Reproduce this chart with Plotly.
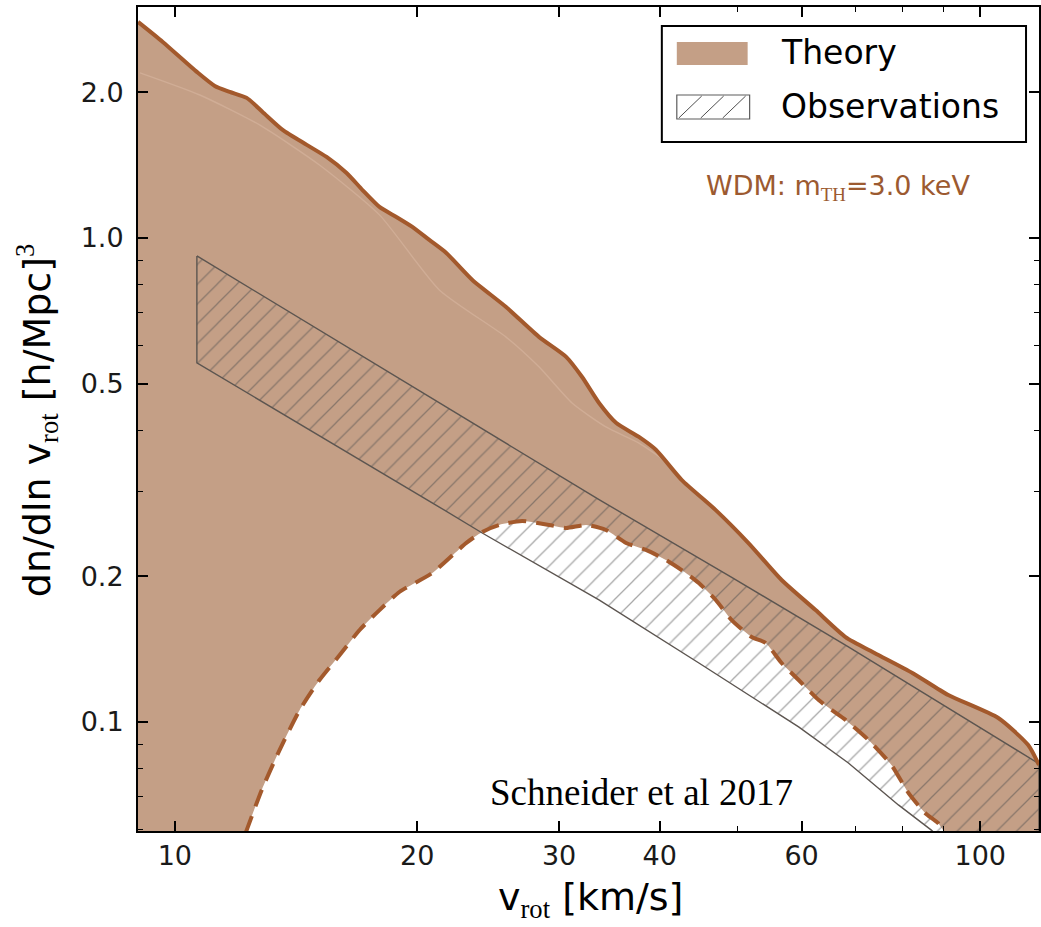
import math
import plotly.graph_objects as go

# Theory band: upper envelope (solid) of dn/dln v_rot versus v_rot [km/s]
theory_upper_v = [9.00, 9.66, 10.65, 11.21, 11.70, 12.28, 12.85, 13.61, 14.58, 15.43,
                  16.34, 17.10, 17.95, 18.84, 19.72, 20.70, 21.73, 23.41, 25.78, 28.34,
                  30.61, 32.04, 33.63, 35.30, 37.69, 39.56, 42.61, 46.95, 51.59, 56.67,
                  62.46, 68.04, 73.92, 82.37, 91.27, 105.3, 114.7, 118.3]
theory_upper_n = [2.795, 2.541, 2.203, 2.061, 2.003, 1.947, 1.821, 1.672, 1.557, 1.470,
                  1.362, 1.256, 1.159, 1.105, 1.054, 0.9905, 0.931, 0.819, 0.720, 0.624,
                  0.568, 0.516, 0.456, 0.415, 0.388, 0.365, 0.316, 0.274, 0.234, 0.1965,
                  0.1703, 0.1498, 0.1389, 0.1263, 0.1137, 0.1019, 0.0896, 0.0815]

# Theory band: lower envelope (dashed)
theory_lower_v = [9.00, 11.70, 12.28, 12.82, 13.49, 14.29, 15.12, 16.02, 16.96, 17.95,
                  19.00, 20.88, 23.01, 24.08, 25.27, 26.99, 29.15, 30.61, 32.41, 34.30,
                  36.33, 38.45, 40.71, 43.10, 44.73, 46.95, 49.14, 52.03, 54.15, 56.67,
                  59.50, 63.01, 65.38, 68.04, 72.66, 77.59, 81.44, 85.49, 88.68, 92.60,
                  118.3]
theory_lower_n = [0.020, 0.048, 0.0598, 0.0724, 0.0875, 0.1059, 0.1221, 0.1375, 0.1549, 0.1703,
                  0.1856, 0.2032, 0.2344, 0.2470, 0.2553, 0.2602, 0.2553, 0.2517, 0.2553, 0.2493,
                  0.2344, 0.2267, 0.2162, 0.2032, 0.1937, 0.1787, 0.1624, 0.1498, 0.1456, 0.1324,
                  0.1221, 0.1110, 0.1059, 0.1010, 0.0918, 0.0815, 0.0714, 0.0648, 0.0618, 0.0557,
                  0.040]

# Faint central curve inside the theory band
theory_mid_v = [9.05, 10.74, 12.74, 15.12, 17.95, 21.30, 25.78, 28.34, 31.13, 34.30, 37.69, 40.48]
theory_mid_n = [2.193, 1.974, 1.712, 1.415, 1.116, 0.781, 0.624, 0.541, 0.456, 0.407, 0.377, 0.348]

# Observational band (hatched)
obs_upper_v = [10.65, 21.30, 33.63, 49.14, 68.60, 118.3]
obs_upper_n = [0.918, 0.456, 0.288, 0.199, 0.143, 0.082]
obs_lower_v = [10.65, 21.30, 24.08, 33.62, 44.74, 59.50, 68.60, 79.14, 86.96, 95.00, 118.3]
obs_lower_n = [0.552, 0.278, 0.2457, 0.1787, 0.1324, 0.0977, 0.0823, 0.0674, 0.0598, 0.052, 0.040]

x_ticks = [10, 20, 30, 40, 60, 100]
x_tick_labels = ["10", "20", "30", "40", "60", "100"]
x_minor = [50, 70, 80, 90]
y_ticks = [0.1, 0.2, 0.5, 1.0, 2.0]
y_tick_labels = ["0.1", "0.2", "0.5", "1.0", "2.0"]
y_minor = [0.06, 0.07, 0.08, 0.09, 0.3, 0.4, 0.6, 0.7, 0.8, 0.9, 3.0]

X_RANGE = (9.0, 118.3)
Y_RANGE = (0.05954, 3.0)

FILL = "#c49f86"
LINE = "#a3592c"
FAINT = "#d0ad96"
HATCH = "#4f4f4f"
SANS = "DejaVu Sans"
SERIF = "Liberation Serif"

W, H = 1041, 927
L, T, R, B = 138, 7, 0, 96
PW, PH = W - L - R, H - T - B


def fx(xp):
    return (xp - L) / PW


def fy(yp):
    return (H - B - yp) / PH


SMOOTH = dict(shape="spline", smoothing=0.6)

fig = go.Figure()

# theory band fill
fig.add_trace(go.Scatter(
    x=theory_upper_v + theory_lower_v[::-1],
    y=theory_upper_n + theory_lower_n[::-1],
    fill="toself", fillcolor=FILL, mode="lines",
    line=dict(width=0, **SMOOTH), hoverinfo="skip"))

fig.add_trace(go.Scatter(
    x=theory_mid_v, y=theory_mid_n, mode="lines",
    line=dict(color=FAINT, width=1.4, **SMOOTH), hoverinfo="skip"))

# observations band, hatched
fig.add_trace(go.Scatter(
    x=obs_upper_v + obs_lower_v[::-1] + [obs_upper_v[0]],
    y=obs_upper_n + obs_lower_n[::-1] + [obs_upper_n[0]],
    fill="toself", fillcolor="rgba(0,0,0,0)",
    fillpattern=dict(shape="/", fgcolor=HATCH, bgcolor="rgba(0,0,0,0)",
                     size=14, solidity=0.09, fillmode="overlay"),
    mode="lines", line=dict(color="#5c5550", width=1.4), hoverinfo="skip"))

# envelopes
fig.add_trace(go.Scatter(
    x=theory_lower_v, y=theory_lower_n, mode="lines",
    line=dict(color=LINE, width=4, dash="18px,10px", **SMOOTH), hoverinfo="skip"))
fig.add_trace(go.Scatter(
    x=theory_upper_v, y=theory_upper_n, mode="lines",
    line=dict(color=LINE, width=4, **SMOOTH), hoverinfo="skip"))

axis_common = dict(
    type="log", showgrid=False, zeroline=False,
    showline=True, linecolor="black", linewidth=2, mirror="ticks",
    ticks="inside", ticklen=10, tickwidth=1.5, tickcolor="black",
    tickfont=dict(family=SANS, size=27, color="#1a1a1a"),
)

fig.update_xaxes(
    **axis_common,
    range=[math.log10(X_RANGE[0]), math.log10(X_RANGE[1])],
    tickvals=x_ticks, ticktext=x_tick_labels,
    minor=dict(tickvals=x_minor, ticks="inside", ticklen=5, tickwidth=1.2, tickcolor="black"),
)
fig.update_yaxes(
    **axis_common,
    range=[math.log10(Y_RANGE[0]), math.log10(Y_RANGE[1])],
    tickvals=y_ticks, ticktext=y_tick_labels,
    ticklabelstandoff=7,
    minor=dict(tickvals=y_minor, ticks="inside", ticklen=5, tickwidth=1.2, tickcolor="black"),
)

annotations = [
    dict(x=fx(592), y=fy(900), xref="paper", yref="paper", showarrow=False,
         xanchor="center", yanchor="middle",
         text="v<sub><span style=\"font-family:'Liberation Serif'\">rot</span></sub> [km/s]",
         font=dict(family=SANS, size=38, color="black")),
    dict(x=fx(37), y=fy(420), xref="paper", yref="paper", showarrow=False,
         xanchor="center", yanchor="middle", textangle=-90,
         text="dn/dln v<sub><span style=\"font-family:'Liberation Serif'\">rot</span></sub> [h/Mpc]"
              "<sup><span style=\"font-family:'Liberation Serif'\">3</span></sup>",
         font=dict(family=SANS, size=38, color="black")),
    dict(x=fx(705), y=fy(188), xref="paper", yref="paper", showarrow=False,
         xanchor="left", yanchor="middle",
         text="WDM: m<sub><span style=\"font-family:'Liberation Serif'\">TH</span></sub>=3.0 keV",
         font=dict(family=SANS, size=27, color="#9c5a30")),
    dict(x=fx(643), y=fy(792), xref="paper", yref="paper", showarrow=False,
         xanchor="center", yanchor="middle", text="Schneider et al 2017",
         font=dict(family=SERIF, size=37, color="black")),
    dict(x=fx(780), y=fy(53), xref="paper", yref="paper", showarrow=False,
         xanchor="left", yanchor="middle", text="Theory",
         font=dict(family=SANS, size=33, color="black")),
    dict(x=fx(780), y=fy(106), xref="paper", yref="paper", showarrow=False,
         xanchor="left", yanchor="middle", text="Observations",
         font=dict(family=SANS, size=33, color="black")),
]

shapes = [
    # legend frame
    dict(type="rect", xref="paper", yref="paper",
         x0=fx(663), x1=fx(1028), y0=fy(142), y1=fy(26),
         line=dict(color="black", width=2), fillcolor="white", layer="above"),
    # legend swatch: theory
    dict(type="rect", xref="paper", yref="paper",
         x0=fx(678), x1=fx(749), y0=fy(65), y1=fy(42),
         line=dict(width=0), fillcolor=FILL, layer="above"),
    # legend swatch: observations
    dict(type="rect", xref="paper", yref="paper",
         x0=fx(678), x1=fx(751), y0=fy(119), y1=fy(95),
         line=dict(color="#5c5c5c", width=1.2), fillcolor="white", layer="above"),
]
for x_start in (680, 702, 724):
    shapes.append(dict(type="line", xref="paper", yref="paper",
                       x0=fx(x_start), y0=fy(118), x1=fx(x_start + 23), y1=fy(96),
                       line=dict(color=HATCH, width=1), layer="above"))

fig.update_layout(
    width=W, height=H,
    margin=dict(l=L, r=R, t=T, b=B),
    plot_bgcolor="white", paper_bgcolor="white",
    showlegend=False,
    annotations=annotations, shapes=shapes,
)

fig.write_html("out.html")
